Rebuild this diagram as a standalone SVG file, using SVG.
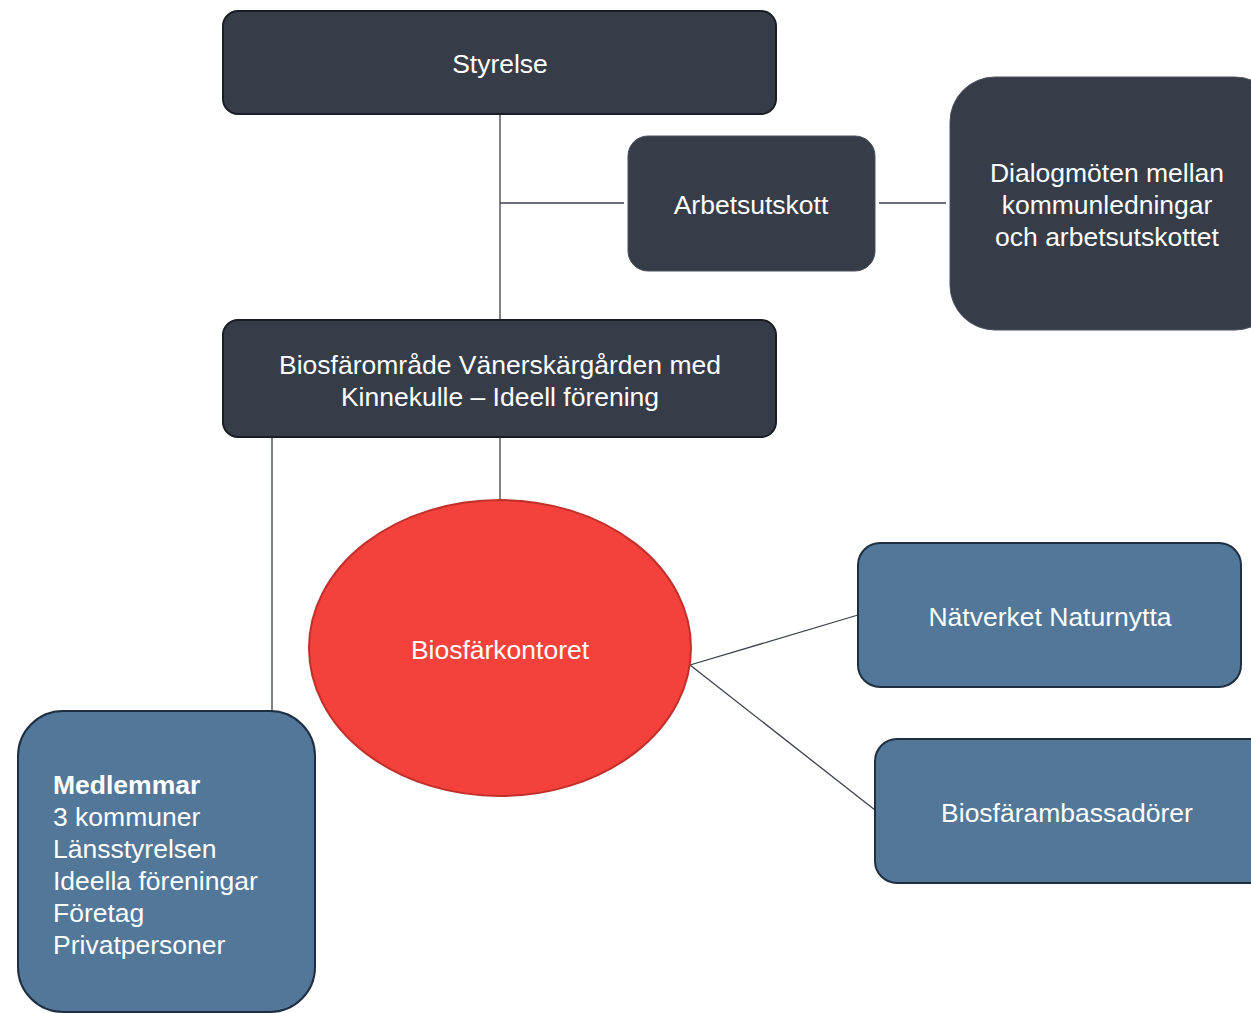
<svg xmlns="http://www.w3.org/2000/svg" width="1251" height="1013" viewBox="0 0 1251 1013">
<style>
.dark{fill:#363c48;stroke:#1a1d24;stroke-width:2}
.darkn{fill:#363c48;stroke:#4a505c;stroke-width:1}
.blue{fill:#527799;stroke:#1f2f42;stroke-width:2}
.t{font-family:"Liberation Sans",Arial,sans-serif;font-size:26.5px;fill:#ffffff}
.c{text-anchor:middle}
.ln{stroke:#3a3f4a;stroke-width:1.3;fill:none}
</style>
<rect width="1251" height="1013" fill="#ffffff"/>
<g id="connectors">
<line class="ln" x1="500" y1="114" x2="500" y2="320"/>
<line class="ln" x1="500" y1="203" x2="624" y2="203"/>
<line class="ln" x1="879" y1="203" x2="946" y2="203"/>
<line class="ln" x1="500" y1="437" x2="500" y2="500"/>
<line class="ln" x1="272" y1="437" x2="272" y2="711"/>
<line class="ln" x1="690" y1="665" x2="858" y2="615"/>
<line class="ln" x1="690" y1="665" x2="875" y2="810"/>
</g>
<g id="styrelse">
<rect class="dark" x="223" y="11" width="553" height="103" rx="15"/>
<text class="t c" x="500" y="73">Styrelse</text>
</g>
<g id="arbetsutskott">
<rect class="darkn" x="628" y="136" width="247" height="135" rx="20"/>
<text class="t c" x="751" y="214">Arbetsutskott</text>
</g>
<g id="dialog">
<rect class="darkn" x="950" y="77" width="330" height="253" rx="45"/>
<text class="t c" x="1107" y="182">Dialogmöten mellan</text>
<text class="t c" x="1107" y="214">kommunledningar</text>
<text class="t c" x="1107" y="246">och arbetsutskottet</text>
</g>
<g id="forening">
<rect class="dark" x="223" y="320" width="553" height="117" rx="15"/>
<text class="t c" x="500" y="374">Biosfärområde Vänerskärgården med</text>
<text class="t c" x="500" y="406">Kinnekulle – Ideell förening</text>
</g>
<g id="biosfarkontoret">
<ellipse cx="500" cy="648" rx="191" ry="148" fill="#f5413b" stroke="#c0302b" stroke-width="2"/>
<text class="t c" x="500" y="659">Biosfärkontoret</text>
</g>
<g id="natverket">
<rect class="blue" x="858" y="543" width="383" height="144" rx="22"/>
<text class="t c" x="1050" y="626">Nätverket Naturnytta</text>
</g>
<g id="ambassadorer">
<rect class="blue" x="875" y="739" width="400" height="144" rx="22"/>
<text class="t c" x="1067" y="822">Biosfärambassadörer</text>
</g>
<g id="medlemmar">
<rect class="blue" x="18" y="711" width="297" height="301" rx="45"/>
<text class="t" x="53" y="794" font-weight="bold">Medlemmar</text>
<text class="t" x="53" y="826">3 kommuner</text>
<text class="t" x="53" y="858">Länsstyrelsen</text>
<text class="t" x="53" y="890">Ideella föreningar</text>
<text class="t" x="53" y="922">Företag</text>
<text class="t" x="53" y="954">Privatpersoner</text>
</g>
</svg>
